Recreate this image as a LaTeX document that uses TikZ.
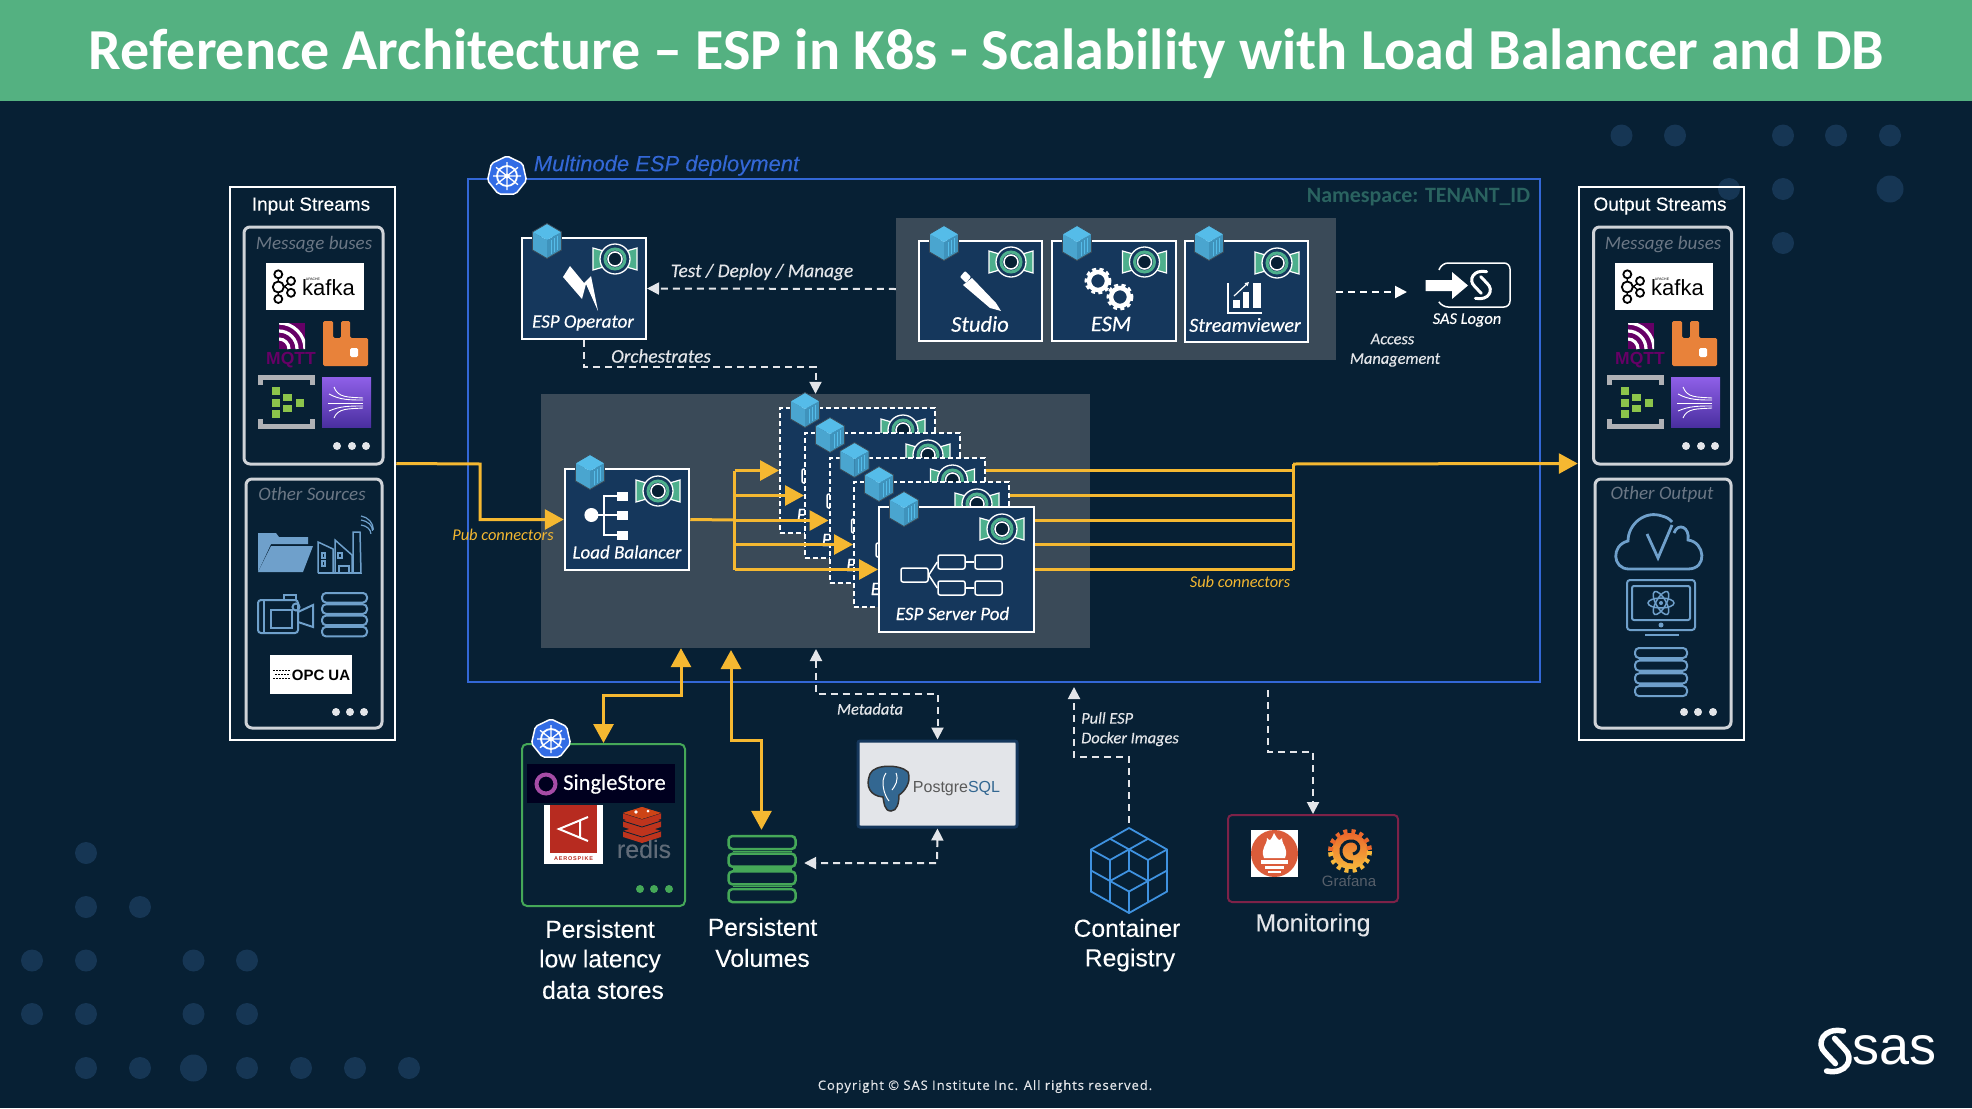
\documentclass[tikz,border=0pt]{standalone}
\usepackage{fontspec}
\usetikzlibrary{arrows.meta}
\newfontfamily\carlitofont{Carlito}
\newfontfamily\carlitoheavy[FakeBold=0.3]{Carlito}
\newfontfamily\armfont{Liberation Sans}
\newfontfamily\armheavy[FakeBold=0.15]{Liberation Sans}
\newfontfamily\copyfont[LetterSpace=7.2,FakeBold=0.2]{Open Sans}
\begin{document}
\begin{tikzpicture}[x=1pt,y=-1pt,
  titletext/.style={inner sep=0, white, font=\carlitofont\bfseries\fontsize{58}{58}\selectfont},
  armtext/.style={inner sep=0, white, font=\armheavy\fontsize{24.6}{25}\selectfont},
  headtext/.style={inner sep=0, white, font=\armheavy\fontsize{19}{19}\selectfont},
  podtext/.style={inner sep=0, white, font=\carlitoheavy\itshape\fontsize{19}{19}\selectfont},
  bigpodtext/.style={inner sep=0, white, font=\carlitoheavy\itshape\fontsize{22.5}{23}\selectfont},
  linktext/.style={inner sep=0, custcol_light, font=\carlitoheavy\itshape\fontsize{19.3}{19}\selectfont},
  smalltext/.style={inner sep=0, custcol_light, font=\carlitoheavy\itshape\fontsize{16.4}{16}\selectfont},
  greytext/.style={inner sep=0, custcol_grey, font=\carlitofont\itshape\fontsize{19}{19}\selectfont},
  pubtext/.style={inner sep=0, custcol_yellow, font=\carlitofont\itshape\fontsize{16.4}{16}\selectfont},
  streambox/.style={draw=white, line width=2.5pt, inner sep=0},
  sourcebox/.style={draw=custcol_frame, line width=3pt, rounded corners=6pt, inner sep=0},
  podbox/.style={draw=white, line width=2pt, fill=custcol_pod, inner sep=0},
  podghost/.style={draw=white, line width=2pt, dash pattern=on 5pt off 3pt, fill=custcol_pod, inner sep=0},
  panelbox/.style={fill=custcol_panel, inner sep=0},
  flowbox/.style={draw=white, line width=1.5pt, rounded corners=2pt, minimum width=27pt, minimum height=14pt, inner sep=0},
  whitebox/.style={fill=white, inner sep=0},
  hollow/.style={inner sep=0},
  iconline/.style={draw=custcol_icon, line width=2pt},
  bigyellow/.style={draw=custcol_yellow, line width=3pt},
  yellowtip/.style={bigyellow, -{Triangle[length=19pt,width=20pt]}},
  yellowboth/.style={bigyellow, {Triangle[length=19pt,width=20pt]}-{Triangle[length=19pt,width=20pt]}},
  dashline/.style={draw=custcol_light, line width=2pt, dash pattern=on 7pt off 5pt},
  dashtip/.style={dashline, -{Triangle[length=12pt,width=12pt]}},
  dashboth/.style={dashline, {Triangle[length=12pt,width=12pt]}-{Triangle[length=12pt,width=12pt]}},
  ]
\definecolor{custcol_bg}{RGB}{7, 32, 52}
\definecolor{custcol_head}{RGB}{84, 177, 129}
\definecolor{custcol_dot}{RGB}{22, 54, 84}
\definecolor{custcol_light}{RGB}{227, 229, 233}
\definecolor{custcol_grey}{RGB}{107, 119, 133}
\definecolor{custcol_frame}{RGB}{207, 211, 216}
\definecolor{custcol_pod}{RGB}{21, 55, 92}
\definecolor{custcol_panel}{RGB}{58, 74, 88}
\definecolor{custcol_blue}{RGB}{51, 103, 214}
\definecolor{custcol_yellow}{RGB}{245, 184, 49}
\definecolor{custcol_icon}{RGB}{111, 160, 203}
\definecolor{custcol_green}{RGB}{69, 168, 88}
\definecolor{custcol_logo}{RGB}{77, 175, 140}
\definecolor{custcol_teal}{RGB}{42, 99, 96}
\definecolor{custcol_kube}{RGB}{50, 108, 229}
\definecolor{custcol_cube}{RGB}{85, 188, 233}
\definecolor{custcol_cubel}{RGB}{74, 165, 207}
\definecolor{custcol_cuber}{RGB}{63, 147, 188}
\definecolor{custcol_red}{RGB}{183, 43, 32}
\definecolor{custcol_mqtt}{RGB}{102, 0, 102}
\definecolor{custcol_rabbit}{RGB}{232, 130, 58}
\definecolor{custcol_hub}{RGB}{140, 196, 75}
\definecolor{custcol_kintop}{RGB}{143, 96, 232}
\definecolor{custcol_kinlow}{RGB}{74, 47, 160}
\definecolor{custcol_pgblue}{RGB}{51, 103, 145}
\definecolor{custcol_regblue}{RGB}{63, 146, 224}
\definecolor{custcol_mon}{RGB}{125, 34, 72}
\definecolor{custcol_prom}{RGB}{219, 92, 58}
\definecolor{custcol_grafa}{RGB}{236, 104, 44}
\definecolor{custcol_grafb}{RGB}{246, 183, 60}
% small pictures that come back
\def\espcube#1#2{\begin{scope}[shift={(#1,#2)}]
  \fill [custcol_cubel] (-14.5,-9) -- (0,-1) -- (0,17.5) -- (-14.5,9) -- cycle;
  \fill [custcol_cuber] (14.5,-9) -- (0,-1) -- (0,17.5) -- (14.5,9) -- cycle;
  \fill [custcol_cube] (0,-17.5) -- (14.5,-9) -- (0,-1) -- (-14.5,-9) -- cycle;
  \draw [line width=0.7pt, custcol_cube] (4,-1) -- (4,13) (7,-3) -- (7,11) (10,-5) -- (10,9);
  \draw [line width=0.8pt, custcol_panel] (0,-17.5) -- (14.5,-9) -- (14.5,9) -- (0,17.5) -- (-14.5,9) -- (-14.5,-9) -- cycle;
\end{scope}}
\def\esplogo#1#2{\begin{scope}[shift={(#1,#2)}]
  \draw [line width=1.2pt, white, fill=custcol_logo] (-22,-11) -- (-8,-7) -- (-8,7) -- (-22,11) -- cycle;
  \draw [line width=1.2pt, white, fill=custcol_logo] (22,-11) -- (8,-7) -- (8,7) -- (22,11) -- cycle;
  \draw [line width=1.3pt, white, fill=custcol_pod] (0,0) circle (15);
  \draw [line width=3pt, custcol_logo] (0,0) circle (10);
  \draw [line width=1.5pt, white, fill=custcol_bg] (0,0) circle (7);
\end{scope}}
\def\kubeicon#1#2{\begin{scope}[shift={(#1,#2)}]
  \draw [line width=1.5pt, white, fill=custcol_kube, rounded corners=2pt] (0,-20) -- (15.6,-12.5) -- (19.5,4.5) -- (8.7,18) -- (-8.7,18) -- (-19.5,4.5) -- (-15.6,-12.5) -- cycle;
  \draw [line width=1.8pt, white] (0,0) circle (10);
  \draw [line width=1.3pt, white] (0,-14) -- (0,14) (11,-8.7) -- (-11,8.7) (-11,-8.7) -- (11,8.7) (-14,0) -- (14,0);
  \fill [white] (0,0) circle (2.5);
\end{scope}}
\def\stackicon#1#2#3#4#5#6#7{\begin{scope}[shift={(#1,#2)}, draw=#6, line width=#7, rounded corners=4pt]
  \draw (0,0) rectangle (#3,#4);
  \draw (0,#5) rectangle (#3,{#5+#4});
  \draw (0,{2*#5}) rectangle (#3,{2*#5+#4});
  \draw (0,{3*#5}) rectangle (#3,{3*#5+#4});
  \draw [line width=1.3pt] (4,{#4+(#5-#4)/2}) -- ({#3-4},{#4+(#5-#4)/2});
  \draw [line width=1.3pt] (4,{#5+#4+(#5-#4)/2}) -- ({#3-4},{#5+#4+(#5-#4)/2});
  \draw [line width=1.3pt] (4,{2*#5+#4+(#5-#4)/2}) -- ({#3-4},{2*#5+#4+(#5-#4)/2});
\end{scope}}
\def\sasmark#1#2#3#4{\begin{scope}[shift={(#1,#2)}, scale=#3, line width=#4, white, line cap=round]
  \draw (.4,-.95) .. controls (-.55,-1.15) and (-.95,-.35) .. (-.45,.1) -- (.02,.6);
  \draw (-.4,.95) .. controls (.55,1.15) and (.95,.35) .. (.45,-.1) -- (-.02,-.6);
\end{scope}}
\def\redislayer#1{
  \fill [custcol_red!90!orange] (623,#1) -- (642,{#1-6}) -- (661,#1) -- (661,{#1+6}) -- (642,{#1+12}) -- (623,{#1+6}) -- cycle;
  \draw [line width=0.8pt, custcol_bg] (623,#1) -- (642,{#1+6}) -- (661,#1);}
\def\threedots#1#2#3#4#5{
  \fill [#5] (#1,#4) circle (4);
  \fill [#5] (#2,#4) circle (4);
  \fill [#5] (#3,#4) circle (4);}
% the message buses are the same on both sides
\def\busgroup#1#2#3{\begin{scope}[shift={(#1,0)}]
  \node[sourcebox, minimum width=#3, minimum height=237pt] (#2buses) at (313.5,345.5) {};
  \node[greytext] (#2buslabel) at (314,245) {Message buses};
  \node[whitebox, minimum width=98pt, minimum height=47pt] (#2kafka) at (315,286.5) {};
  \draw [line width=1.3pt, black] (278.3,274.3) -- (278.3,299) (278.3,281) -- (291,292) (278.3,292) -- (291,281);
  \draw [line width=1.8pt, black, fill=white] (278.3,274.3) circle (4) (278.3,299) circle (4) (278.3,287) circle (5.5) (291,281) circle (4) (291,292.8) circle (4);
  \node[inner sep=0, black, font=\armfont\fontsize{22}{22}\selectfont] (#2kafkaname) at (328.5,288) {kafka};
  \node[inner sep=0, black, font=\armfont\fontsize{3.5}{4}\selectfont] (#2apache) at (313,279) {APACHE};
  \fill [custcol_mqtt] (279,323) rectangle (305,349);
  \begin{scope}
    \clip (279,323) rectangle (305,349);
    \draw [line width=3.2pt, white] (279,339) arc (-90:0:10 and 10);
    \draw [line width=3.2pt, white] (279,331) arc (-90:0:18 and 18);
    \draw [line width=3.2pt, white] (279,323) arc (-90:0:26 and 26);
  \end{scope}
  \node[inner sep=0, custcol_mqtt, font=\armfont\bfseries\fontsize{17.5}{17}\selectfont] (#2mqtt) at (291,360) {MQTT};
  \fill [custcol_rabbit, rounded corners=1.5pt] (323,321) -- (333,321) -- (333,338) -- (341,338) -- (341,321) -- (350,321) -- (350,338) -- (368,338) -- (368,366) -- (323,366) -- cycle;
  \fill [white, rounded corners=1.5pt] (350,348) rectangle (358,357);
  \draw [line width=5pt, custcol_frame!60!gray] (260,385) -- (260,377.5) -- (312,377.5) -- (312,385);
  \draw [line width=5pt, custcol_frame!60!gray] (260,419) -- (260,426.5) -- (312,426.5) -- (312,419);
  \fill [custcol_hub] (272,387) rectangle (280,395);
  \fill [custcol_hub] (272,399) rectangle (280,407);
  \fill [custcol_hub] (272,410) rectangle (280,418);
  \fill [custcol_hub] (283,394) rectangle (292,401);
  \fill [custcol_hub] (283,405) rectangle (292,412);
  \fill [custcol_hub] (296,399) rectangle (304,407);
  \shade [top color=custcol_kintop, bottom color=custcol_kinlow] (322,377) rectangle (371,427);
  \draw [line width=0.9pt, white] (334,387) .. controls (338,398) and (348,397) .. (363,398);
  \draw [line width=0.9pt, white] (329,394) .. controls (340,400) and (350,400) .. (363,400);
  \draw [line width=0.9pt, white] (328,403) -- (363,403);
  \draw [line width=0.9pt, white] (329,411) .. controls (340,406) and (350,406) .. (363,406);
  \draw [line width=0.9pt, white] (334,418) .. controls (338,408) and (348,409) .. (363,408);
  \threedots{337}{352}{366}{446}{custcol_light}
\end{scope}}
\def\esppod#1#2#3#4{\begin{scope}[shift={(#2,#3)}]
  \node[#4, minimum width=155pt, minimum height=125pt] (#1) at (77.5,62.5) {};
  \espcube{25}{2}
  \esplogo{123}{22}
  \node[flowbox] (#1a) at (35.5,68) {};
  \node[flowbox] (#1b) at (72.5,55) {};
  \node[flowbox] (#1c) at (109.5,55) {};
  \node[flowbox] (#1d) at (72.5,81) {};
  \node[flowbox] (#1e) at (109.5,81) {};
  \draw [line width=1.5pt, white] (#1a.east) -- (#1b.west);
  \draw [line width=1.5pt, white] (#1a.east) -- (#1d.west);
  \draw [line width=1.5pt, white] (#1b) -- (#1c);
  \draw [line width=1.5pt, white] (#1d) -- (#1e);
  \node[podtext] (#1name) at (73.5,106.5) {ESP Server Pod};
\end{scope}}
% slide
\useasboundingbox (0,0) rectangle (1972,1108);
\fill [custcol_bg] (0,0) rectangle (1972,1108);
\fill [custcol_head] (0,0) rectangle (1972,101);
\node[titletext] (title) at (986.5,53.5) {Reference Architecture – ESP in K8s - Scalability with Load Balancer and DB};
% dots
\fill [custcol_dot] (86,853) circle (11);
\fill [custcol_dot] (86,907) circle (11);
\fill [custcol_dot] (140,907) circle (11);
\fill [custcol_dot] (32,960.5) circle (11);
\fill [custcol_dot] (86,960.5) circle (11);
\fill [custcol_dot] (193.5,960.5) circle (11);
\fill [custcol_dot] (247,960.5) circle (11);
\fill [custcol_dot] (32,1014) circle (11);
\fill [custcol_dot] (86,1014) circle (11);
\fill [custcol_dot] (193.5,1014) circle (11);
\fill [custcol_dot] (247,1014) circle (11);
\fill [custcol_dot] (86,1068) circle (11);
\fill [custcol_dot] (140,1068) circle (11);
\fill [custcol_dot] (193.5,1068) circle (13.5);
\fill [custcol_dot] (247,1068) circle (11);
\fill [custcol_dot] (301,1068) circle (11);
\fill [custcol_dot] (355,1068) circle (11);
\fill [custcol_dot] (409,1068) circle (11);
\fill [custcol_dot] (1621.5,135.5) circle (11);
\fill [custcol_dot] (1675,135.5) circle (11);
\fill [custcol_dot] (1783,135.5) circle (11);
\fill [custcol_dot] (1836,135.5) circle (11);
\fill [custcol_dot] (1890,135.5) circle (11);
\fill [custcol_dot] (1729,189) circle (11);
\fill [custcol_dot] (1783,189) circle (11);
\fill [custcol_dot] (1890,189) circle (13.5);
\fill [custcol_dot] (1783,243) circle (11);
% input side
\node[streambox, minimum width=165pt, minimum height=553pt] (instreams) at (312.5,463.5) {};
\node[headtext] (inlabel) at (311,206) {Input Streams};
\busgroup{0}{in}{139pt}
\node[sourcebox, minimum width=136pt, minimum height=249pt] (othersrc) at (314,603.5) {};
\node[greytext] (otherlabel) at (312,494) {Other Sources};
\fill [custcol_icon] (258,572) -- (258,533) -- (276,533) -- (279,537) -- (308,537) -- (308,544) -- (271,544) -- (258,572) -- cycle;
\fill [custcol_icon] (258,572) -- (271,546) -- (313,546) -- (303,572) -- cycle;
\draw [custcol_icon, line width=1.5pt] (318,573) -- (318,542) -- (333,549) -- (333,573);
\draw [custcol_icon, line width=1.5pt] (335,573) -- (335,540) -- (352,555) -- (352,573);
\draw [custcol_icon, line width=1.5pt] (353,573) -- (353,532) -- (360,532) -- (361,573) -- cycle;
\draw [custcol_icon, line width=1.5pt] (318,573) -- (361,573);
\draw [custcol_icon, line width=1.2pt] (322,553) rectangle (325,558) (322,561) rectangle (325,566) (338,553) rectangle (342,558) (339,573) -- (339,566) -- (349,566) -- (349,573);
\draw [custcol_icon, line width=1.2pt] (361,525) arc (-80:0:12 and 9) (361,520) arc (-80:0:14 and 11) (361,516) arc (-80:0:15 and 14);
\draw [iconline, rounded corners=3pt] (258,600) rectangle (298,633);
\draw [iconline] (298,612) -- (313,605) -- (313,627) -- (298,622);
\draw [iconline] (284,600) -- (284,595) -- (296,595) -- (296,600);
\draw [iconline] (296,607) circle (3.5);
\draw [iconline] (271,610) rectangle (292,628);
\draw [iconline] (264,600) -- (264,633);
\stackicon{322}{593}{45}{9.5}{11.3}{custcol_icon}{2pt}
\node[whitebox, minimum width=82pt, minimum height=39pt] (opcua) at (311,674.5) {};
\draw [black, line width=1pt, dash pattern=on 2pt off 1pt] (273,670) -- (290,670) (275,674) -- (290,674) (273,678) -- (290,678);
\node[inner sep=0, black, font=\armfont\bfseries\fontsize{15}{15}\selectfont] (opcname) at (321,675) {OPC UA};
\threedots{336}{350}{364}{712}{custcol_light}
% output side
\node[streambox, minimum width=165pt, minimum height=553pt] (outstreams) at (1661.5,463.5) {};
\node[headtext] (outlabel) at (1660,206) {Output Streams};
\busgroup{1349}{out}{138pt}
\node[sourcebox, minimum width=136pt, minimum height=249pt] (otherout) at (1663,603.5) {};
\node[greytext] (otheroutlabel) at (1662,494) {Other Output};
\draw [custcol_icon, line width=2.8pt] (1629,569) .. controls (1612,569) and (1611,545) .. (1628,541) .. controls (1628,524) and (1645,510) .. (1662,516) .. controls (1666,517) and (1670,519) .. (1672,522) (1674,533) .. controls (1678,522) and (1690,527) .. (1688,540) .. controls (1705,542) and (1708,569) .. (1688,569) -- (1629,569);
\draw [custcol_icon, line width=2.8pt] (1647,534) -- (1658,558) -- (1672,525);
\draw [iconline, rounded corners=3pt] (1627,580) rectangle (1695,630);
\draw [iconline, rounded corners=2pt] (1632,586) rectangle (1690,620);
\draw [custcol_icon, line width=2pt] (1645,634.5) -- (1679,634.5);
\fill [custcol_icon] (1661,625) circle (2.5);
\draw [custcol_icon, line width=1.5pt] (1661,603) ellipse (13 and 5);
\draw [custcol_icon, line width=1.5pt, rotate around={60:(1661,603)}] (1661,603) ellipse (13 and 5);
\draw [custcol_icon, line width=1.5pt, rotate around={-60:(1661,603)}] (1661,603) ellipse (13 and 5);
\fill [custcol_icon] (1661,603) circle (2);
\stackicon{1635}{648}{52}{10}{12.7}{custcol_icon}{2pt}
\threedots{1684}{1698}{1713}{712}{custcol_light}
% namespace
\node[draw=custcol_blue, line width=2pt, inner sep=0, minimum width=1072pt, minimum height=503pt] (espframe) at (1004,430.5) {};
\kubeicon{507}{176}
\node[inner sep=0, custcol_blue, font=\armheavy\itshape\fontsize{22}{22}\selectfont] (espname) at (666.5,165.5) {Multinode ESP deployment};
\node[inner sep=0, custcol_teal, font=\carlitofont\bfseries\fontsize{21.9}{22}\selectfont] (nsname) at (1418.5,197) {Namespace: TENANT\_ID};
% tools
\node[panelbox, minimum width=440pt, minimum height=142pt] (toolspanel) at (1116,289) {};
\node[podbox, minimum width=124pt, minimum height=101pt] (operator) at (584,288.5) {};
\espcube{547}{241}
\esplogo{615}{259}
\fill [white] (570,266) -- (563,277) -- (582,299) -- (586,284) -- (598,311) -- (591,276) -- (584,283) -- cycle;
\node[podtext] (operatorname) at (583,323) {ESP Operator};
\node[podbox, minimum width=123pt, minimum height=100pt] (studio) at (980.5,291) {};
\espcube{944}{243}
\esplogo{1011}{262}
\fill [white, rounded corners=1pt] (960,277) -- (965,271) -- (971,277) -- (966,283) -- cycle;
\fill [white] (963,285) -- (972,278) -- (996,303) -- (1001,311) -- (990,308) -- cycle;
\node[bigpodtext] (studioname) at (980,324) {Studio};
\node[podbox, minimum width=124pt, minimum height=100pt] (esm) at (1114,291) {};
\espcube{1077}{243}
\esplogo{1144.5}{262}
\draw [line width=3pt, white, dash pattern=on 4pt off 3.2pt] (1098,281) circle (12);
\draw [line width=4.5pt, white] (1098,281) circle (9);
\draw [line width=3pt, white, dash pattern=on 4pt off 3.2pt] (1120,297) circle (12);
\draw [line width=4.5pt, white] (1120,297) circle (9);
\node[bigpodtext] (esmname) at (1111,324) {ESM};
\node[podbox, minimum width=123pt, minimum height=101pt] (viewer) at (1246.5,291.5) {};
\espcube{1209}{243}
\esplogo{1277}{263}
\draw [line width=2pt, white] (1228,283) -- (1228,313) -- (1262,313);
\fill [white] (1233,300) rectangle (1240,308);
\fill [white] (1243,292) rectangle (1249,308);
\fill [white] (1253,283) rectangle (1261,308);
\draw [line width=1.2pt, white, -{Triangle[length=4pt,width=4pt]}] (1234,296) -- (1249,282);
\node[podtext, font=\carlitoheavy\itshape\fontsize{20}{20}\selectfont] (viewername) at (1245,325) {Streamviewer};
\node[hollow, minimum width=85pt, minimum height=44pt] (saslogon) at (1467.5,285) {};
\draw [line width=1.5pt, white, rounded corners=6pt] (1439,270) -- (1442,263) -- (1510,263) -- (1510,307) -- (1442,307) -- (1439,302);
\fill [white] (1425.5,280) -- (1452,280) -- (1452,272) -- (1468,285.5) -- (1452,299) -- (1452,291) -- (1425.5,291) -- cycle;
\sasmark{1481}{285}{14}{3pt}
\node[smalltext, white] (sasname) at (1467,320) {SAS Logon};
\coordinate (accessto) at (1407,292);
\draw[dashtip, draw=white] (toolspanel.east |- accessto) -- (accessto);
\node[smalltext] (accessa) at (1392.5,339) {Access};
\node[smalltext] (accessb) at (1395,360) {Management};
\draw[dashtip] (toolspanel.west) -- (operator.east);
\node[linktext] (testname) at (762,272) {Test / Deploy / Manage};
% pods
\node[panelbox, minimum width=549pt, minimum height=254pt] (lbpanel) at (815.5,521) {};
\coordinate (orchbend) at (584,367);
\draw[dashtip] (operator.south) -- (orchbend) -- (orchbend -| lbpanel.north) -- (lbpanel.north);
\node[linktext] (orchname) at (661,356) {Orchestrates};
\coordinate (outbus) at (1293,464);
\coordinate (lbbus) at (734.6,520);
\coordinate (pod1east) at (935,470.5);
\coordinate (pod2east) at (960,495.5);
\coordinate (pod3east) at (985,520);
\coordinate (pod4east) at (1010,544.5);
\coordinate (pod5east) at (1034,569.5);
\draw[bigyellow] (pod1east) -- (pod1east -| outbus);
\draw[bigyellow] (pod2east) -- (pod2east -| outbus);
\draw[bigyellow] (pod3east) -- (pod3east -| outbus);
\draw[bigyellow] (pod4east) -- (pod4east -| outbus);
\draw[bigyellow] (pod5east) -- (pod5east -| outbus);
\draw[bigyellow] (outbus) -- (outbus |- pod5east);
\draw[yellowtip] (outbus) -- (outstreams.west);
\node[podbox, minimum width=124.5pt, minimum height=101pt] (lb) at (627,519.5) {};
\espcube{590}{472}
\esplogo{658}{491}
\draw [line width=1.5pt, white] (591.4,515) -- (617,515) (617,496) -- (604,496) -- (604,535) -- (617,535);
\fill [white] (591.4,515) circle (7);
\fill [white] (617,491.5) rectangle (628,500.5);
\fill [white] (617,510.5) rectangle (628,519.5);
\fill [white] (617,530.5) rectangle (628,539.5);
\node[podtext] (lbname) at (627,552) {Load Balancer};
\esppod{pod1}{780}{408}{podghost}
\esppod{pod2}{805}{433}{podghost}
\esppod{pod3}{829.5}{458}{podghost}
\esppod{pod4}{854}{482}{podghost}
\esppod{pod5}{879}{507}{podbox}
\coordinate (pubbend) at (480,464);
\draw[yellowtip] (instreams.east) -- (pubbend) -- (pubbend |- lb.west) -- (lb.west);
\node[pubtext] (pubname) at (503,535) {Pub connectors};
\node[pubtext] (subname) at (1240,582) {Sub connectors};
\draw[bigyellow] (lb.east) -- (lbbus);
\draw[bigyellow] (lbbus |- pod1.west) -- (lbbus |- pod5.west);
\draw[yellowtip] (lbbus |- pod1.west) -- (pod1.west);
\draw[yellowtip] (lbbus |- pod2.west) -- (pod2.west);
\draw[yellowtip] (lbbus |- pod3.west) -- (pod3.west);
\draw[yellowtip] (lbbus |- pod4.west) -- (pod4.west);
\draw[yellowtip] (lbbus |- pod5.west) -- (pod5.west);
% stores
\node[draw=custcol_green, line width=2pt, rounded corners=5pt, inner sep=0, minimum width=163pt, minimum height=162pt] (stores) at (603.5,825) {};
\kubeicon{551}{739}
\node[fill=black!88!blue, inner sep=0, minimum width=147.5pt, minimum height=39pt] (singlestore) at (601,783.5) {};
\draw [line width=4pt, violet!70!white] (546,784) circle (9.5);
\node[inner sep=0, white, font=\carlitoheavy\fontsize{22.5}{23}\selectfont] (singlename) at (614.5,784) {SingleStore};
\node[whitebox, minimum width=59pt, minimum height=59pt] (aerospike) at (573.5,834.5) {};
\fill [custcol_red] (550,805) rectangle (597,853);
\draw [line width=2pt, white] (588,817) -- (559,829) -- (588,841) (580,820) -- (580,838);
\node[inner sep=0, custcol_red, font=\armfont\bfseries\addfontfeature{LetterSpace=15}\fontsize{5.5}{6}\selectfont] (aeroname) at (573.5,858.5) {AEROSPIKE};
\redislayer{831}
\redislayer{821}
\redislayer{813}
\fill [custcol_red!70!orange] (642,807) -- (661,813) -- (642,819) -- (623,813) -- cycle;
\fill [white] (636,812) circle (1.8) (648,811) circle (1.5);
\node[inner sep=0, custcol_grey!90!black, font=\armheavy\fontsize{25}{25}\selectfont] (redisname) at (644,849) {redis};
\threedots{640}{654}{669}{889}{custcol_green}
\node[armtext] (storesa) at (600,929) {Persistent};
\node[armtext] (storesb) at (600,961) {low latency};
\node[armtext] (storesc) at (603,990) {data stores};
\node[hollow, minimum width=69pt, minimum height=67pt] (volumes) at (761.5,868.5) {};
\stackicon{728.5}{836}{67}{13}{17.7}{custcol_green}{2.5pt}
\node[armtext] (volumesa) at (762.5,927) {Persistent};
\node[armtext] (volumesb) at (762.5,958) {Volumes};
\coordinate (storesbend) at (681,695);
\draw[yellowboth] (stores.north) -- (stores.north |- storesbend) -- (storesbend) -- (storesbend |- lbpanel.south);
\coordinate (volbend) at (731,740);
\draw[yellowboth, shorten >=5pt] (731,650) -- (volbend) -- (volbend -| volumes.north) -- (volumes.north);
\node[draw=custcol_pod, line width=3pt, fill=custcol_light, rounded corners=2pt, inner sep=0, minimum width=159pt, minimum height=86pt] (pg) at (937.5,784) {};
\draw [line width=1.5pt, black!80, fill=custcol_pgblue] (870,774) .. controls (874,764) and (900,764) .. (908,772) .. controls (912,782) and (904,792) .. (899,795) .. controls (899,803) and (897,811) .. (891,811) .. controls (884,811) and (884,802) .. (883,797) .. controls (870,796) and (865,786) .. (870,774) -- cycle;
\draw [line width=1pt, white] (886,773) .. controls (880,781) and (884,795) .. (889,801) (896,773) .. controls (899,780) and (895,786) .. (892,790);
\node[inner sep=0, font=\armfont\fontsize{16}{16}\selectfont] (pgname) at (956.5,789) {\textcolor{black!65}{Postgre}\textcolor{custcol_pgblue}{SQL}};
\coordinate (metaup) at (816,649);
\coordinate (metabend) at (816,694);
\draw[dashboth] (metaup) -- (metabend) -- (metabend -| pg.north) -- (pg.north);
\node[smalltext] (metaname) at (870,709) {Metadata};
\coordinate (pgbend) at (937,863);
\draw[dashboth, shorten >=8pt] (pg.south) -- (pgbend) -- (volumes.east |- pgbend);
% registry
\node[hollow, minimum width=76pt, minimum height=85pt] (registry) at (1129,870.5) {};
\begin{scope}[shift={(1129,870.5)}, custcol_regblue, line width=1.8pt]
  \draw (0,-42.5) -- (38,-21) -- (38,21) -- (0,42.5) -- (-38,21) -- (-38,-21) -- cycle;
  \draw (-38,-21) -- (-19,-10.5) -- (19,-31.75) (-19,-31.75) -- (19,-10.5) -- (38,-21);
  \draw (-19,-10.5) -- (-19,32) (19,-10.5) -- (19,32) (0,-21) -- (0,0);
  \draw (-38,0) -- (-19,10.5) -- (0,0) -- (19,10.5) -- (38,0) (-19,10.5) -- (0,21) -- (19,10.5) (0,21) -- (0,42.5);
\end{scope}
\node[armtext] (registrya) at (1127,928) {Container};
\node[armtext] (registryb) at (1130,960) {Registry};
\coordinate (pullbend) at (1074,757);
\coordinate (pullup) at (1074,687);
\draw[dashtip, shorten <=5pt] (registry.north) -- (registry.north |- pullbend) -- (pullbend) -- (pullup);
\node[smalltext, anchor=west] (pullname) at (1081,718) {Pull ESP};
\node[smalltext, anchor=west] (dockername) at (1081,739) {Docker Images};
% monitoring
\node[draw=custcol_mon, line width=2pt, rounded corners=4pt, inner sep=0, minimum width=170pt, minimum height=87pt] (monitor) at (1313,858.5) {};
\coordinate (monup) at (1268,690);
\coordinate (monbend) at (1313,752);
\draw[dashtip] (monup) -- (monup |- monbend) -- (monbend) -- (monitor.north);
\node[whitebox, minimum width=47pt, minimum height=47pt] (prometheus) at (1274.5,853.5) {};
\fill [custcol_prom] (1274.5,853.5) circle (23.5);
\fill [white] (1264,858) .. controls (1260,848) and (1267,846) .. (1267,838) .. controls (1270,842) and (1271,840) .. (1274,833) .. controls (1278,840) and (1279,842) .. (1282,838) .. controls (1282,846) and (1289,848) .. (1285,858) -- cycle;
\fill [white] (1261,860) rectangle (1288,864);
\fill [white] (1265,866) rectangle (1284,869);
\fill [white] (1268,871) rectangle (1281,873);
\shade [top color=custcol_grafa, bottom color=custcol_grafb] (1350,851) circle (18);
\draw [line width=5pt, custcol_grafa, dash pattern=on 4pt off 4pt] (1330.5,851) arc (180:360:19.5);
\draw [line width=5pt, custcol_grafb, dash pattern=on 4pt off 4pt] (1369.5,851) arc (0:180:19.5);
\draw [line width=3pt, custcol_bg] (1353,862) .. controls (1339,863) and (1336,843) .. (1350,841) .. controls (1360,840) and (1362,852) .. (1353,854);
\node[inner sep=0, custcol_grey!80!black, font=\armfont\fontsize{15}{15}\selectfont] (grafananame) at (1349,881) {Grafana};
\node[armtext, custcol_light] (monitorname) at (1313,925) {Monitoring};
% footer
\node[inner sep=0, custcol_light, font=\copyfont\fontsize{13}{13}\selectfont] (copyname) at (985,1086.5) {Copyright © SAS Institute Inc. All rights reserved.};
\sasmark{1835}{1051}{21}{5.5pt}
\node[inner sep=0, white, font=\armfont\fontsize{54}{54}\selectfont] (sasname2) at (1894,1050) {sas};
\end{tikzpicture}
\end{document}
